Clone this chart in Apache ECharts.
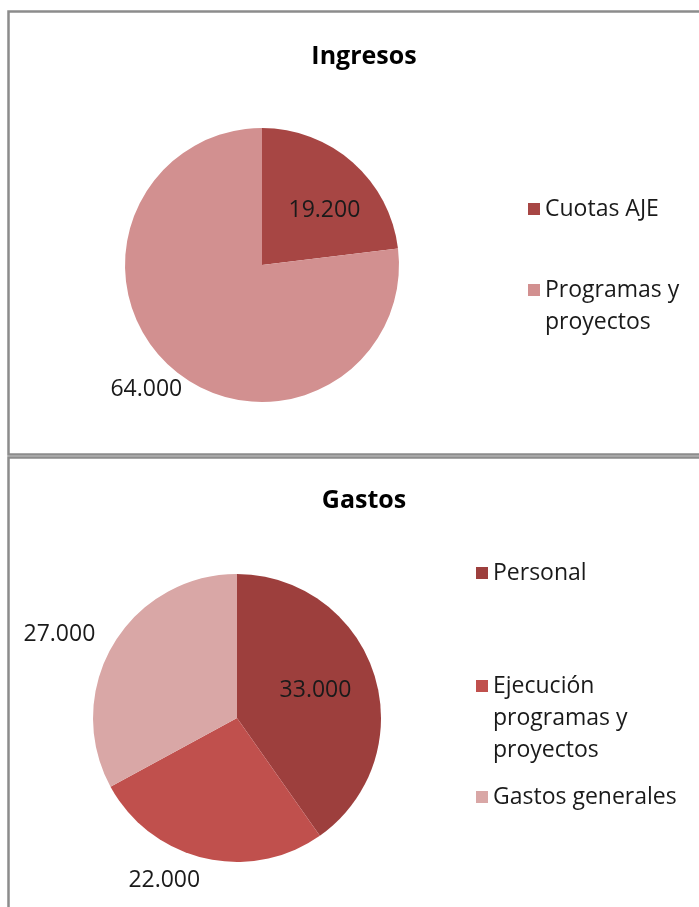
<!DOCTYPE html>
<html><head><meta charset="utf-8">
<script src="https://cdn.jsdelivr.net/npm/echarts@6/dist/echarts.min.js"></script>
<style>html,body{margin:0;padding:0;background:#fff}#c{width:699px;height:907px}</style>
</head><body><div id="c"></div>
<script>
const ingresosNames = ['Cuotas AJE', 'Programas y proyectos'];
const ingresosValues = [19200, 64000];
const ingresosLabels = ['19.200', '64.000'];
const gastosNames = ['Personal', 'Ejecución programas y proyectos', 'Gastos generales'];
const gastosValues = [33000, 22000, 27000];
const gastosLabels = ['33.000', '22.000', '27.000'];
const ingresosColors = ['#A74644', '#D29090'];
const gastosColors = ['#9D3F3D', '#C0504D', '#D9A7A6'];

const FONT = 'Open Sans';
const FS = 23;
const chart = echarts.init(document.getElementById('c'));
const lbl = (txt) => ({ formatter: () => txt, color: '#1a1a1a', fontSize: FS, fontFamily: FONT });

function legendItem(name, top, left, fmt) {
  return {
    data: [name], top: top, left: left, orient: 'vertical',
    icon: 'rect', itemWidth: 12, itemHeight: 12, itemGap: 6,
    selectedMode: false,
    formatter: fmt || (n => n),
    textStyle: { fontFamily: FONT, fontSize: FS, color: '#1a1a1a', lineHeight: 32 }
  };
}

chart.setOption({
  animation: false,
  graphic: [
    { type: 'rect', shape: { x: 8.5, y: 11.5, width: 720, height: 443 }, style: { fill: 'none', stroke: '#8c8c8c', lineWidth: 2.5 } },
    { type: 'rect', shape: { x: 8.5, y: 457.5, width: 720, height: 480 }, style: { fill: 'none', stroke: '#8c8c8c', lineWidth: 2.5 } }
  ],
  title: [
    { text: 'Ingresos', left: 359, top: 39, textAlign: 'center', textStyle: { fontFamily: FONT, fontSize: 25, fontWeight: 'bold', color: '#000' } },
    { text: 'Gastos', left: 359, top: 483, textAlign: 'center', textStyle: { fontFamily: FONT, fontSize: 25, fontWeight: 'bold', color: '#000' } }
  ],
  legend: [
    legendItem(ingresosNames[0], 188, 523),
    legendItem(ingresosNames[1], 237, 523, n => '\nProgramas y\nproyectos'),
    legendItem(gastosNames[0], 552, 471),
    legendItem(gastosNames[1], 601, 471, n => '\n\nEjecución\nprogramas y\nproyectos'),
    legendItem(gastosNames[2], 776, 471)
  ],
  series: [
    {
      type: 'pie', center: [262, 265], radius: 137, startAngle: 90, clockwise: true,
      silent: true,
      labelLine: { show: false, length: 18, length2: 0 },
      data: ingresosNames.map((n, i) => ({
        name: n, value: ingresosValues[i],
        itemStyle: { color: ingresosColors[i] },
        label: Object.assign(lbl(ingresosLabels[i]), i === 0 ? { position: 'inside', offset: [15, -1] } : { position: 'outside', offset: [28, 8] })
      }))
    },
    {
      type: 'pie', center: [237, 718], radius: 144, startAngle: 90, clockwise: true,
      silent: true,
      labelLine: { show: false, length: 22, length2: 0 },
      data: gastosNames.map((n, i) => ({
        name: n, value: gastosValues[i],
        itemStyle: { color: gastosColors[i] },
        label: Object.assign(lbl(gastosLabels[i]), i === 0 ? { position: 'inside', offset: [7, -5] } : { position: 'outside', offset: [6, 1] })
      }))
    }
  ]
});
</script></body></html>
